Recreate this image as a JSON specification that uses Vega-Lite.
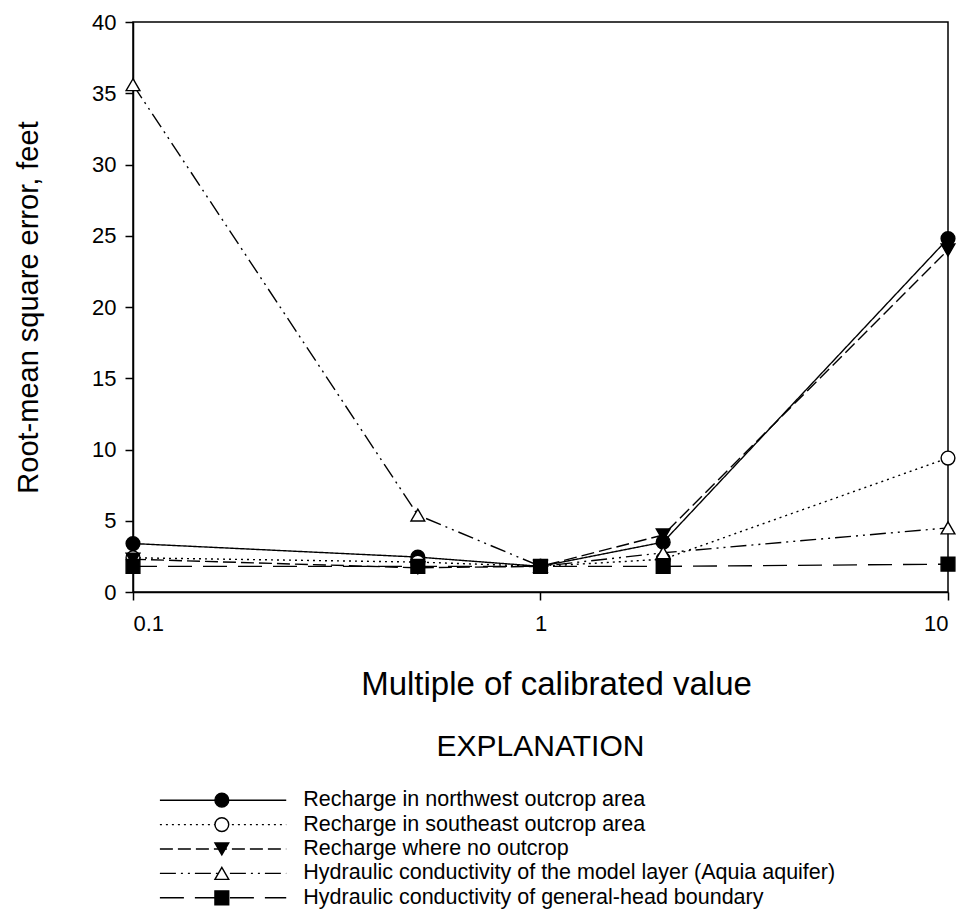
{
  "$schema": "https://vega.github.io/schema/vega-lite/v6.json",
  "padding": {"left": 13, "top": 10, "right": 5, "bottom": 0},
  "background": "white",
  "config": {
    "font": "Liberation Sans",
    "view": {"stroke": null},
    "axis": {"grid": false, "domainColor": "black", "tickColor": "black", "labelColor": "black", "titleColor": "black", "domainWidth": 1.5, "tickWidth": 1.5, "labelFont": "Liberation Sans", "titleFont": "Liberation Sans", "titleFontWeight": "normal", "labelFontSize": 22, "titleFontSize": 29, "tickSize": 8},
    "title": {"font": "Liberation Sans", "fontWeight": "normal", "fontSize": 30, "color": "black"}
  },
  "datasets": {
    "rmse": [
      {"series": "Recharge in northwest outcrop area", "multiple": 0.1, "rmse": 3.4},
      {"series": "Recharge in northwest outcrop area", "multiple": 0.5, "rmse": 2.45},
      {"series": "Recharge in northwest outcrop area", "multiple": 1, "rmse": 1.8},
      {"series": "Recharge in northwest outcrop area", "multiple": 2, "rmse": 3.5},
      {"series": "Recharge in northwest outcrop area", "multiple": 10, "rmse": 24.8},
      {"series": "Recharge in southeast outcrop area", "multiple": 0.1, "rmse": 2.4},
      {"series": "Recharge in southeast outcrop area", "multiple": 0.5, "rmse": 2.1},
      {"series": "Recharge in southeast outcrop area", "multiple": 1, "rmse": 1.8},
      {"series": "Recharge in southeast outcrop area", "multiple": 2, "rmse": 2.3},
      {"series": "Recharge in southeast outcrop area", "multiple": 10, "rmse": 9.4},
      {"series": "Recharge where no outcrop", "multiple": 0.1, "rmse": 2.3},
      {"series": "Recharge where no outcrop", "multiple": 0.5, "rmse": 1.7},
      {"series": "Recharge where no outcrop", "multiple": 1, "rmse": 1.8},
      {"series": "Recharge where no outcrop", "multiple": 2, "rmse": 4.0},
      {"series": "Recharge where no outcrop", "multiple": 10, "rmse": 24.0},
      {"series": "Hydraulic conductivity of the model layer (Aquia aquifer)", "multiple": 0.1, "rmse": 35.6},
      {"series": "Hydraulic conductivity of the model layer (Aquia aquifer)", "multiple": 0.5, "rmse": 5.4},
      {"series": "Hydraulic conductivity of the model layer (Aquia aquifer)", "multiple": 1, "rmse": 1.8},
      {"series": "Hydraulic conductivity of the model layer (Aquia aquifer)", "multiple": 2, "rmse": 2.75},
      {"series": "Hydraulic conductivity of the model layer (Aquia aquifer)", "multiple": 10, "rmse": 4.5},
      {"series": "Hydraulic conductivity of general-head boundary", "multiple": 0.1, "rmse": 1.8},
      {"series": "Hydraulic conductivity of general-head boundary", "multiple": 0.5, "rmse": 1.8},
      {"series": "Hydraulic conductivity of general-head boundary", "multiple": 1, "rmse": 1.8},
      {"series": "Hydraulic conductivity of general-head boundary", "multiple": 2, "rmse": 1.8},
      {"series": "Hydraulic conductivity of general-head boundary", "multiple": 10, "rmse": 1.95}
    ],
    "names": [
      {"series": "Recharge in northwest outcrop area"},
      {"series": "Recharge in southeast outcrop area"},
      {"series": "Recharge where no outcrop"},
      {"series": "Hydraulic conductivity of the model layer (Aquia aquifer)"},
      {"series": "Hydraulic conductivity of general-head boundary"}
    ]
  },
  "resolve": {"scale": {"x": "independent", "y": "independent"}},
  "spacing": 30,
  "vconcat": [
    {
      "width": 815,
      "height": 570,
      "view": {"stroke": "black", "strokeWidth": 1.5},
      "data": {"name": "rmse"},
      "encoding": {
        "x": {"field": "multiple", "type": "quantitative", "scale": {"type": "log", "domain": [0.1, 10]},
              "axis": {"values": [0.1, 1, 10], "format": "~g", "title": "Multiple of calibrated value", "titleFontSize": 33, "labelPadding": 13, "titlePadding": 34, "titleX": 423}},
        "y": {"field": "rmse", "type": "quantitative", "scale": {"domain": [0, 40], "nice": false},
              "axis": {"values": [0, 5, 10, 15, 20, 25, 30, 35, 40], "title": "Root-mean square error, feet", "labelPadding": 9, "titlePadding": 48}}
      },
      "layer": [
        {
          "mark": {"type": "line", "stroke": "black", "strokeWidth": 1.4},
          "encoding": {
            "strokeDash": {"field": "series", "type": "nominal", "legend": null,
              "scale": {"domain": ["Recharge in northwest outcrop area", "Recharge in southeast outcrop area", "Recharge where no outcrop", "Hydraulic conductivity of the model layer (Aquia aquifer)", "Hydraulic conductivity of general-head boundary"],
                        "range": [[1, 0], [2, 4], [13, 5], [16, 5, 2, 5, 2, 5], [24, 11]]}}
          }
        },
        {
          "mark": {"type": "point", "filled": true, "stroke": "black", "strokeWidth": 1.4, "opacity": 1, "size": 190},
          "encoding": {
            "shape": {"field": "series", "type": "nominal", "legend": null,
              "scale": {"domain": ["Recharge in northwest outcrop area", "Recharge in southeast outcrop area", "Recharge where no outcrop", "Hydraulic conductivity of the model layer (Aquia aquifer)", "Hydraulic conductivity of general-head boundary"],
                        "range": ["circle", "circle", "triangle-down", "triangle-up", "square"]}},
            "fill": {"field": "series", "type": "nominal", "legend": null,
              "scale": {"domain": ["Recharge in northwest outcrop area", "Recharge in southeast outcrop area", "Recharge where no outcrop", "Hydraulic conductivity of the model layer (Aquia aquifer)", "Hydraulic conductivity of general-head boundary"],
                        "range": ["black", "white", "black", "white", "black"]}}
          }
        }
      ]
    },
    {
      "width": 815,
      "height": 122,
      "title": {"text": "EXPLANATION", "anchor": "middle", "offset": 26},
      "data": {"name": "names"},
      "encoding": {
        "y": {"field": "series", "type": "nominal", "axis": null,
              "sort": ["Recharge in northwest outcrop area", "Recharge in southeast outcrop area", "Recharge where no outcrop", "Hydraulic conductivity of the model layer (Aquia aquifer)", "Hydraulic conductivity of general-head boundary"]}
      },
      "layer": [
        {
          "mark": {"type": "rule", "stroke": "black", "strokeWidth": 1.4},
          "encoding": {
            "x": {"datum": 3.3, "type": "quantitative", "scale": {"domain": [0, 100]}, "axis": null},
            "x2": {"datum": 18.8},
            "strokeDash": {"field": "series", "type": "nominal", "legend": null}
          }
        },
        {
          "mark": {"type": "point", "filled": true, "stroke": "black", "strokeWidth": 1.4, "opacity": 1, "size": 190},
          "encoding": {
            "x": {"datum": 10.9, "type": "quantitative"},
            "shape": {"field": "series", "type": "nominal", "legend": null},
            "fill": {"field": "series", "type": "nominal", "legend": null}
          }
        },
        {
          "mark": {"type": "text", "align": "left", "baseline": "middle", "fontSize": 21.5, "font": "Liberation Sans", "color": "black"},
          "encoding": {
            "x": {"datum": 20.9, "type": "quantitative"},
            "text": {"field": "series", "type": "nominal"}
          }
        }
      ]
    }
  ]
}
